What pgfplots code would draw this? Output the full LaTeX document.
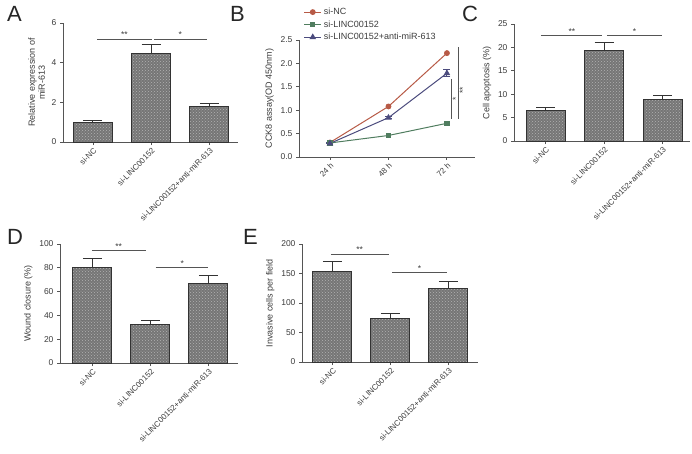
\documentclass[border=0pt]{standalone}
\usepackage{pgfplots}
\pgfplotsset{compat=1.18}
\usepackage{fontspec}
\setmainfont{Liberation Sans}
\usetikzlibrary{patterns}

\definecolor{barfill}{RGB}{118,118,118}
\definecolor{dotcol}{RGB}{178,178,178}
\definecolor{axcol}{RGB}{85,85,85}
\definecolor{txtcol}{RGB}{60,60,60}
\definecolor{cNC}{RGB}{183,90,70}
\definecolor{cLI}{RGB}{80,125,95}
\definecolor{cAN}{RGB}{75,75,125}

\tikzset{
 sig/.style={line width=0.9pt, axcol},
 star/.style={font=\fontsize{8.5}{8.5}\selectfont, text=txtcol, inner sep=1pt, anchor=south},
}

\pgfplotsset{
 panel/.style={
  scale only axis,
  axis x line=bottom, axis y line=left,
  axis line style={-, axcol, line width=0.9pt},
  tick style={axcol, line width=0.9pt},
  tick align=outside,
  major tick length=3pt,
  every tick label/.append style={font=\fontsize{8.5}{9.5}\selectfont, text=txtcol},
  label style={font=\fontsize{9}{10}\selectfont, text=txtcol},
  /pgf/number format/assume math mode=true,
  clip=false,
  anchor=south west,
 },
 barpanel/.style={panel, ybar, bar width=39pt, xtick={0,1,2},
  xticklabels={si-NC, si-LINC00152, si-LINC00152+anti-miR-613},
  x tick label style={rotate=45, anchor=north east, inner sep=1.5pt, font=\fontsize{8}{9}\selectfont},
  ymin=0},
 barplot/.style={fill=barfill, draw=black!80, line width=1pt,
  postaction={pattern=crosshatch dots, pattern color=dotcol},
  error bars/.cd, y dir=plus, y explicit,
  error bar style={line width=1pt, black!80},
  error mark options={rotate=90, mark size=9.5pt, line width=1pt, black!80}},
}

\begin{document}
\begin{tikzpicture}
\path[use as bounding box] (0,0) rectangle (692pt,453pt);

% Panel labels
\node[font=\fontsize{22}{22}\selectfont, text=black!85, anchor=north west, inner sep=0pt] at (7pt,447pt) {A};
\node[font=\fontsize{22}{22}\selectfont, text=black!85, anchor=north west, inner sep=0pt] at (230pt,447pt) {B};
\node[font=\fontsize{22}{22}\selectfont, text=black!85, anchor=north west, inner sep=0pt] at (462pt,447pt) {C};
\node[font=\fontsize{22}{22}\selectfont, text=black!85, anchor=north west, inner sep=0pt] at (7pt,224pt) {D};
\node[font=\fontsize{22}{22}\selectfont, text=black!85, anchor=north west, inner sep=0pt] at (243pt,224pt) {E};

% ---------- A ----------
\begin{axis}[barpanel, at={(63pt,311pt)}, width=175pt, height=119pt,
  xmin=-0.515, xmax=2.49, ymax=6, ytick={0,2,4,6},
  ylabel={Relative expression of\\miR-613}, ylabel style={align=center}]
\addplot[barplot] table[x=x, y=y, y error=e] {
x y e
0 1.00 0.10
1 4.45 0.45
2 1.78 0.17
};
\draw[sig] (axis cs:0.07,5.19) -- (axis cs:1.01,5.19);
\node[star] at (axis cs:0.54,5.19) {**};
\draw[sig] (axis cs:1.05,5.19) -- (axis cs:1.96,5.19);
\node[star] at (axis cs:1.5,5.19) {*};
\end{axis}

% ---------- B ----------
\begin{axis}[panel, at={(299pt,296pt)}, width=176pt, height=117pt,
  xmin=-0.53, xmax=2.48, ymin=0, ymax=2.5, ytick={0,0.5,1,1.5,2,2.5},
  yticklabel style={/pgf/number format/.cd, fixed, fixed zerofill, precision=1},
  xtick={0,1,2}, xticklabels={24 h, 48 h, 72 h},
  x tick label style={rotate=45, anchor=north east, inner sep=1.5pt, font=\fontsize{8}{9}\selectfont},
  ylabel={CCK8 assay(OD 450nm)},
  legend style={at={(0.02,1.30)}, anchor=north west, draw=none, fill=none,
    font=\fontsize{9}{10}\selectfont, text=txtcol, row sep=0.5pt, inner sep=1pt},
  legend cell align=left]
\addplot[cNC, line width=1pt, mark=*, mark size=2.4pt, mark options={solid}] table {
x y
0 0.31
1 1.08
2 2.22
};
\addlegendentry{si-NC}
\addplot[cLI, line width=1pt, mark=square*, mark size=2.2pt, mark options={solid}] table {
x y
0 0.30
1 0.46
2 0.72
};
\addlegendentry{si-LINC00152}
\addplot[cAN, line width=1pt, mark=triangle*, mark size=2.8pt, mark options={solid},
  error bars/.cd, y dir=both, y explicit,
  error bar style={line width=1pt, cAN},
  error mark options={rotate=90, mark size=3.5pt, line width=1pt, cAN}] table[x=x, y=y, y error=e] {
x y e
0 0.29 0.01
1 0.84 0.02
2 1.79 0.07
};
\addlegendentry{si-LINC00152+anti-miR-613}
\draw[sig] (axis cs:2.085,1.67) -- (axis cs:2.085,0.81);
\node[font=\fontsize{8.5}{8.5}\selectfont, text=txtcol, rotate=90, inner sep=0pt] at (axis cs:2.15,1.25) {*};
\draw[sig] (axis cs:2.205,2.35) -- (axis cs:2.205,0.81);
\node[font=\fontsize{8.5}{8.5}\selectfont, text=txtcol, rotate=90, inner sep=0pt] at (axis cs:2.27,1.42) {**};
\end{axis}

% ---------- C ----------
\begin{axis}[barpanel, at={(514pt,312pt)}, width=176pt, height=117pt,
  xmin=-0.54, xmax=2.47, ymax=25, ytick={0,5,10,15,20,25},
  ylabel={Cell apoptosis (\%)}]
\addplot[barplot] table[x=x, y=y, y error=e] {
x y e
0 6.6 0.65
1 19.4 1.6
2 8.9 0.8
};
\draw[sig] (axis cs:-0.08,22.6) -- (axis cs:0.97,22.6);
\node[star] at (axis cs:0.45,22.6) {**};
\draw[sig] (axis cs:1.05,22.6) -- (axis cs:1.99,22.6);
\node[star] at (axis cs:1.52,22.6) {*};
\end{axis}

% ---------- D ----------
\begin{axis}[barpanel, at={(60pt,90pt)}, width=178pt, height=119pt,
  xmin=-0.56, xmax=2.51, ymax=100, ytick={0,20,40,60,80,100},
  ylabel={Wound closure (\%)}]
\addplot[barplot] table[x=x, y=y, y error=e] {
x y e
0 80.0 8.0
1 32.5 3.5
2 66.5 7.0
};
\draw[sig] (axis cs:-0.01,94.4) -- (axis cs:0.92,94.4);
\node[star] at (axis cs:0.45,94.4) {**};
\draw[sig] (axis cs:1.09,80) -- (axis cs:2.0,80);
\node[star] at (axis cs:1.55,80) {*};
\end{axis}

% ---------- E ----------
\begin{axis}[barpanel, at={(302pt,91pt)}, width=176pt, height=118pt,
  xmin=-0.526, xmax=2.51, ymax=200, ytick={0,50,100,150,200},
  ylabel={Invasive cells per field}]
\addplot[barplot] table[x=x, y=y, y error=e] {
x y e
0 154 16
1 74 8
2 124 13
};
\draw[sig] (axis cs:-0.03,183) -- (axis cs:0.97,183);
\node[star] at (axis cs:0.47,183) {**};
\draw[sig] (axis cs:1.03,151) -- (axis cs:1.97,151);
\node[star] at (axis cs:1.5,151) {*};
\end{axis}
\end{tikzpicture}
\end{document}
